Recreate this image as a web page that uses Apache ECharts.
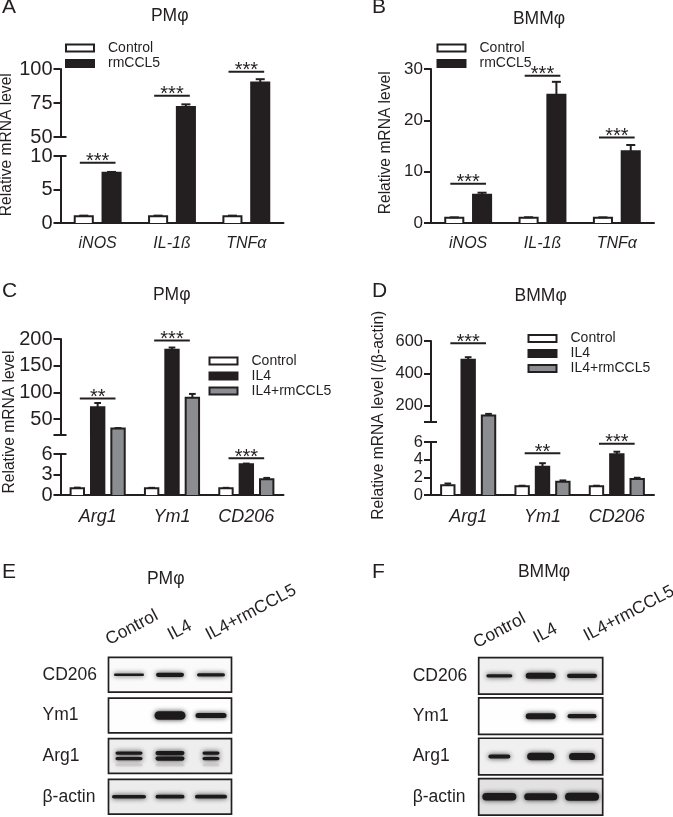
<!DOCTYPE html>
<html><head><meta charset="utf-8">
<style>html,body{margin:0;padding:0;background:#fff}#c{width:673px;height:817px;filter:blur(0.35px)}</style>
<script src="https://cdn.jsdelivr.net/npm/echarts@6/dist/echarts.min.js"></script>
</head><body><div id="c"></div>
<script>
// ---------- data ----------
const genesM1 = ['iNOS', 'IL-1ß', 'TNFα'];
const genesM2 = ['Arg1', 'Ym1', 'CD206'];
const groupsM1 = ['Control', 'rmCCL5'];
const groupsM2 = ['Control', 'IL4', 'IL4+rmCCL5'];

const aControl = [1, 1, 1],        aControlErr = [0.1, 0.1, 0.1];
const aCcl5 = [7.5, 72, 90],       aCcl5Err = [0.12, 2, 2.5];
const aSigY = [9, 80.3, 98],       aSigText = ['***', '***', '***'];

const bControl = [1, 1, 1],        bControlErr = [0.1, 0.12, 0.1];
const bCcl5 = [5.5, 25, 14],       bCcl5Err = [0.4, 2.5, 1.2];
const bSigY = [7.65, 28.7, 16.65], bSigText = ['***', '***', '***'];

const cControl = [1, 1, 1],        cControlErr = [0.08, 0.05, 0.05];
const cIl4 = [72, 180, 4.5],       cIl4Err = [8, 4, 0.1];
const cBoth = [32, 90, 2.3],       cBothErr = [1, 7, 0.2];
const cSigY = [88.6, 197, 5.37],   cSigText = ['**', '***', '***'];

const dControl = [1.1, 1, 1],      dControlErr = [0.2, 0.05, 0.05];
const dIl4 = [485, 3.2, 4.6],      dIl4Err = [15, 0.4, 0.3];
const dBoth = [140, 1.5, 1.8],     dBothErr = [10, 0.15, 0.15];
const dSigY = [586, 4.73, 5.81],   dSigText = ['***', '**', '***'];

const aTicksLow = [0, 5, 10],      aTicksHigh = [50, 75, 100];
const bTicks = [0, 10, 20, 30];
const cTicksLow = [0, 3, 6],       cTicksHigh = [20, 50, 100, 150, 200], cLabelsHigh = [50, 100, 150, 200];
const dTicksLow = [0, 2, 4, 6],    dTicksHigh = [100, 200, 400, 600],    dLabelsHigh = [200, 400, 600];

const blotProteins = ['CD206', 'Ym1', 'Arg1', 'β-actin'];
const blotLanes = ['Control', 'IL4', 'IL4+rmCCL5'];
// band thickness and band length per protein (rows) and lane (columns)
const eThick = [[2.6, 4.2, 3.2], [0, 8.5, 5], [3.2, 4.2, 3.2], [3.6, 3.8, 3.8]];
const eLength = [[30, 28, 28], [0, 31, 31], [27, 29, 17], [34, 29, 32]];
const eBack = [250, 254, 238, 236];
const fThick = [[3.2, 6, 4.2], [0, 6, 4.2], [4.2, 7.5, 7], [7.5, 7, 8]];
const fLength = [[26, 30, 30], [0, 30, 29], [22, 27, 26], [34, 33, 34]];
const fBack = [240, 254, 240, 226];

// ---------- style ----------
const INK = '#231f20', GREY = '#8b8d90', FONT = '"Liberation Sans", Arial, sans-serif';
const fillOf = { 'Control': '#ffffff', 'rmCCL5': INK, 'IL4': INK, 'IL4+rmCCL5': GREY };

const grid = [], xAxis = [], yAxis = [], series = [], legend = [], title = [], graphic = [];

function rows(vals, errs) { return vals.map((v, i) => [i, v, errs[i]]); }

function barSeries(name, data, gi, lo, hi, dodge, widthFrac) {
  series.push({
    type: 'custom', name, xAxisIndex: gi, yAxisIndex: gi, data, z: 3,
    encode: { x: 0, y: 1 }, silent: true,
    renderItem(params, api) {
      const i = api.value(0), v = api.value(1), e = api.value(2);
      if (v <= lo) return { type: 'group', children: [] };
      const band = api.size([1, 0])[0];
      const cx = api.coord([i, lo])[0] + dodge * band;
      const hw = (widthFrac * band - 2) / 2;
      const yLo = api.coord([i, lo])[1];
      const top = Math.min(v, hi);
      const yTop = api.coord([i, top])[1];
      const lineStyle = { stroke: INK, lineWidth: 2, fill: null };
      const kids = [{
        type: 'rect', shape: { x: cx - hw, y: yTop, width: 2 * hw, height: yLo - yTop },
        style: { fill: fillOf[name] }
      }];
      const pts = v <= hi
        ? [[cx - hw, yLo], [cx - hw, yTop], [cx + hw, yTop], [cx + hw, yLo]]
        : null;
      if (pts) kids.push({ type: 'polyline', shape: { points: pts }, style: lineStyle });
      else {
        kids.push({ type: 'line', shape: { x1: cx - hw, y1: yLo, x2: cx - hw, y2: yTop }, style: lineStyle });
        kids.push({ type: 'line', shape: { x1: cx + hw, y1: yLo, x2: cx + hw, y2: yTop }, style: lineStyle });
      }
      if (v < hi) {
        const ue = Math.min(v + e, hi), yE = api.coord([i, ue])[1];
        kids.push({ type: 'line', shape: { x1: cx, y1: yTop, x2: cx, y2: yE }, style: lineStyle });
        if (v + e <= hi) kids.push({ type: 'line', shape: { x1: cx - hw * 0.5, y1: yE, x2: cx + hw * 0.5, y2: yE }, style: lineStyle });
      }
      return { type: 'group', children: kids };
    }
  });
}

function sigSeries(gi, ys, texts) {
  series.push({
    type: 'custom', xAxisIndex: gi, yAxisIndex: gi, z: 5, silent: true, clip: false,
    data: ys.map((y, i) => (y == null ? null : [i, y, texts[i]])).filter(Boolean),
    encode: { x: 0, y: 1 },
    renderItem(params, api) {
      const p = api.coord([api.value(0), api.value(1)]);
      const hw = 0.24 * api.size([1, 0])[0];
      return { type: 'group', children: [
        { type: 'line', shape: { x1: p[0] - hw, y1: p[1], x2: p[0] + hw, y2: p[1] }, style: { stroke: INK, lineWidth: 2 } },
        { type: 'text', x: p[0], y: p[1] - 1, style: { text: api.value(2), align: 'center', verticalAlign: 'middle', font: '20px ' + FONT, fill: INK } }
      ]};
    }
  });
}

function breakTick(gi, value) {
  series.push({
    type: 'custom', xAxisIndex: gi, yAxisIndex: gi, z: 4, silent: true, clip: false,
    data: [[0, value]], encode: { x: 0, y: 1 },
    renderItem(params, api) {
      const y = api.coord([0, api.value(1)])[1], x = params.coordSys.x;
      return { type: 'line', shape: { x1: x, y1: y, x2: x + 6, y2: y }, style: { stroke: INK, lineWidth: 2 } };
    }
  });
}

// A panel: segs from bottom to top, each {lo, hi, top, height, ticks, labels}
function panel(cfg) {
  const first = grid.length;
  cfg.segs.forEach((s, k) => {
    const gi = grid.length;
    grid.push({ left: cfg.left, width: cfg.width, top: s.top, height: s.height });
    const isBase = k === 0;
    xAxis.push({
      gridIndex: gi, type: 'category', data: cfg.cats, show: isBase,
      axisLine: { onZero: false, lineStyle: { color: INK, width: 2 } },
      axisTick: { alignWithLabel: true, length: 7, lineStyle: { color: INK, width: 2 } },
      axisLabel: { fontFamily: FONT, fontStyle: 'italic', fontSize: cfg.catSize, color: INK, margin: cfg.catMargin, interval: 0 }
    });
    const hasAxis = !!s.ticks;
    yAxis.push({
      gridIndex: gi, type: 'value', min: s.lo, max: s.hi, show: hasAxis, splitLine: { show: false },
      axisLine: { show: true, onZero: false, lineStyle: { color: INK, width: 2 } },
      axisTick: { show: true, length: 7, lineStyle: { color: INK, width: 2 }, customValues: s.ticks },
      axisLabel: { fontFamily: FONT, fontSize: cfg.tickSize, color: INK, margin: 8, customValues: s.labels || s.ticks,
        showMinLabel: true, showMaxLabel: true, hideOverlap: false }
    });
    cfg.groups.forEach(g => barSeries(g.name, g.data, gi, s.lo, s.hi, g.dodge, cfg.barFrac));
    if (s.breakAt != null) breakTick(gi, s.breakAt);
    if (s.sig) sigSeries(gi, s.sig, cfg.sigText);
  });
  legend.push({
    left: cfg.legend[0], top: cfg.legend[1], orient: 'vertical', selectedMode: false,
    itemWidth: 28, itemHeight: 7, itemGap: cfg.legendGap, padding: 0,
    textStyle: { fontFamily: FONT, fontSize: 14, color: INK, padding: [0, 0, 0, 9] },
    data: cfg.groups.map(g => ({
      name: g.name, icon: 'rect',
      itemStyle: { color: fillOf[g.name], borderColor: INK, borderWidth: 2 }
    }))
  });
  return first;
}

panel({
  left: 60.5, width: 223, cats: genesM1, catSize: 16, catMargin: 13, tickSize: 20, barFrac: 0.27, sigText: aSigText,
  legend: [65, 41], legendGap: 1.5,
  groups: [{ name: 'Control', dodge: -0.187, data: rows(aControl, aControlErr) }, { name: 'rmCCL5', dodge: 0.187, data: rows(aCcl5, aCcl5Err) }],
  segs: [
    { lo: 0, hi: 10, top: 156, height: 67, ticks: aTicksLow, breakAt: 10, sig: [aSigY[0], null, null] },
    { lo: 10, hi: 50, top: 137, height: 19 },
    { lo: 50, hi: 100, top: 69, height: 68, ticks: aTicksHigh, breakAt: 50, sig: [null, aSigY[1], aSigY[2]] }
  ]
});
panel({
  left: 431, width: 223, cats: genesM1, catSize: 16, catMargin: 13, tickSize: 17, barFrac: 0.27, sigText: bSigText,
  legend: [436.5, 41], legendGap: 1.5,
  groups: [{ name: 'Control', dodge: -0.187, data: rows(bControl, bControlErr) }, { name: 'rmCCL5', dodge: 0.187, data: rows(bCcl5, bCcl5Err) }],
  segs: [{ lo: 0, hi: 30, top: 69, height: 154, ticks: bTicks, sig: bSigY }]
});
panel({
  left: 60.5, width: 223, cats: genesM2, catSize: 18, catMargin: 13, tickSize: 20, barFrac: 0.207, sigText: cSigText,
  legend: [208.5, 354], legendGap: 1,
  groups: [
    { name: 'Control', dodge: -0.274, data: rows(cControl, cControlErr) },
    { name: 'IL4', dodge: 0, data: rows(cIl4, cIl4Err) },
    { name: 'IL4+rmCCL5', dodge: 0.274, data: rows(cBoth, cBothErr) }],
  segs: [
    { lo: 0, hi: 6, top: 454, height: 41, ticks: cTicksLow, breakAt: 6, sig: [null, null, cSigY[2]] },
    { lo: 6, hi: 20, top: 435, height: 19 },
    { lo: 20, hi: 200, top: 339, height: 96, ticks: cTicksHigh, labels: cLabelsHigh, breakAt: 20, sig: [cSigY[0], cSigY[1], null] }
  ]
});
panel({
  left: 431, width: 223, cats: genesM2, catSize: 18, catMargin: 13, tickSize: 16.5, barFrac: 0.207, sigText: dSigText,
  legend: [527.5, 331.5], legendGap: 1,
  groups: [
    { name: 'Control', dodge: -0.274, data: rows(dControl, dControlErr) },
    { name: 'IL4', dodge: 0, data: rows(dIl4, dIl4Err) },
    { name: 'IL4+rmCCL5', dodge: 0.274, data: rows(dBoth, dBothErr) }],
  segs: [
    { lo: 0, hi: 6, top: 442, height: 53, ticks: dTicksLow, breakAt: 6, sig: [null, dSigY[1], dSigY[2]] },
    { lo: 6, hi: 100, top: 422, height: 20 },
    { lo: 100, hi: 600, top: 341, height: 81, ticks: dTicksHigh, labels: dLabelsHigh, breakAt: 100, sig: [dSigY[0], null, null] }
  ]
});

// ---------- blots ----------
function blot(left, width, top, height, frameFrac, thick, length, back, doubleRow) {
  const gi = grid.length;
  grid.push({ left, width, top, height });
  xAxis.push({ gridIndex: gi, type: 'category', data: blotLanes, show: false });
  yAxis.push({
    gridIndex: gi, type: 'category', data: blotProteins, inverse: true,
    axisLine: { show: false }, axisTick: { show: false },
    axisLabel: { fontFamily: FONT, fontSize: 17.5, color: INK, align: 'left', margin: 66, interval: 0 }
  });
  series.push({
    type: 'custom', xAxisIndex: gi, yAxisIndex: gi, z: 2, silent: true, clip: false,
    data: back.map((b, r) => [1, r, b]), encode: { x: 0, y: 1 },
    renderItem(params, api) {
      const y = api.coord([1, api.value(1)])[1], h = api.size([0, 1])[1] * frameFrac, g = api.value(2), c = params.coordSys;
      return { type: 'rect', shape: { x: c.x, y: y - h / 2, width: c.width, height: h },
        style: { fill: `rgb(${g},${g},${g})`, stroke: INK, lineWidth: 1.7 } };
    }
  });
  const bands = [];
  thick.forEach((rowT, r) => rowT.forEach((t, l) => { if (t > 0) bands.push([l, r, t, length[r][l]]); }));
  series.push({
    type: 'custom', xAxisIndex: gi, yAxisIndex: gi, z: 3, silent: true, clip: false,
    data: bands, encode: { x: 0, y: 1 },
    renderItem(params, api) {
      const p = api.coord([api.value(0), api.value(1)]), t = api.value(2), len = api.value(3);
      const one = (dy, th, op) => ({
        type: 'rect', shape: { x: p[0] - len / 2, y: p[1] + dy - th / 2, width: len, height: th, r: th / 2 },
        style: { fill: '#1c1a1b', shadowBlur: 5, shadowColor: 'rgba(20,18,18,0.85)', opacity: op }
      });
      if (api.value(1) === doubleRow) {
        return { type: 'group', children: [one(-3, t, 1), one(2.5, t, 1), one(9, 3, 0.1)] };
      }
      return one(0, t, 1);
    }
  });
}
blot(108.5, 123, 654.5, 164, 0.854, eThick, eLength, eBack, 2);
blot(478.7, 124, 655.7, 162.4, 0.906, fThick, fLength, fBack, -1);

// ---------- text ----------
function heading(text, x, y) {
  title.push({ text, left: x, top: y - 10, textAlign: 'center', padding: 0,
    textStyle: { fontFamily: FONT, fontSize: 17.5, fontWeight: 'normal', color: INK } });
}
function letter(text, x, y) {
  title.push({ text, left: x, top: y - 10, padding: 0,
    textStyle: { fontFamily: FONT, fontSize: 21, fontWeight: 'normal', color: INK } });
}
heading('PMφ', 169.7, 17); heading('BMMφ', 539, 20);
heading('PMφ', 171.7, 296); heading('BMMφ', 540.7, 297);
heading('PMφ', 165.7, 580); heading('BMMφ', 544, 573);
letter('A', 2, 7); letter('B', 372, 7); letter('C', 2, 291);
letter('D', 372, 291); letter('E', 2, 572); letter('F', 372, 572);

function yLabel(text, x, y) {
  graphic.push({ type: 'text', x, y, rotation: Math.PI / 2, silent: true,
    style: { text, align: 'center', verticalAlign: 'middle', font: '15.6px ' + FONT, fill: INK } });
}
yLabel('Relative mRNA level', 7, 144.7);
yLabel('Relative mRNA level', 386, 142.8);
yLabel('Relative mRNA level', 10, 422);
yLabel('Relative mRNA level (/β-actin)', 378.5, 415.3);

function laneLabel(text, x, y) {
  graphic.push({ type: 'text', x, y, rotation: 28 * Math.PI / 180, silent: true,
    style: { text, align: 'left', verticalAlign: 'middle', font: '17.5px ' + FONT, fill: INK } });
}
const eLaneAnchors = [[107, 641], [169, 636], [207, 636]];
const fLaneAnchors = [[474.7, 644], [534.7, 639], [585, 637]];
blotLanes.forEach((t, i) => { laneLabel(t, eLaneAnchors[i][0], eLaneAnchors[i][1]); laneLabel(t, fLaneAnchors[i][0], fLaneAnchors[i][1]); });

const chart = echarts.init(document.getElementById('c'), null, { renderer: 'canvas' });
chart.setOption({ animation: false, backgroundColor: '#fff', grid, xAxis, yAxis, series, legend, title, graphic: { elements: graphic } });
</script></body></html>
